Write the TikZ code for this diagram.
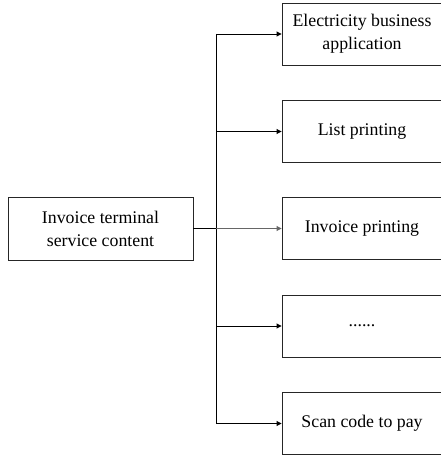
\documentclass[tikz,border=0pt]{standalone}
\usepackage{fontspec}
\setmainfont{Liberation Serif}
\usetikzlibrary{arrows.meta}
\begin{document}
\begin{tikzpicture}[x=1pt,y=-1pt,
  box/.style={draw=black!85,line width=0.9pt,minimum width=160pt,minimum height=62pt,
    inner sep=0pt,align=center,font=\fontsize{17.8}{23}\selectfont},
  src/.style={draw=black!85,line width=0.9pt,minimum width=185pt,minimum height=63pt,
    inner sep=0pt,align=center,font=\fontsize{17.8}{23}\selectfont},
  link/.style={line width=0.9pt,-{Triangle[length=5pt,width=5pt]}}]
\useasboundingbox (0,0) rectangle (440,457);
\fill[white] (0,0) rectangle (440,457);
% source box
\node[src] (s) at (100.5,228.5) {Invoice terminal\\service content};
% target boxes
\node[box] (a) at (362,34) {Electricity business\\application};
\node[box] (b) at (362,131.5) {List printing};
\node[box] (c) at (362,228.5) {Invoice printing};
\node[box] (d) at (362,326) {......};
\node[box] (e) at (362,423.5) {Scan code to pay};
% trunk and branches
\coordinate (j) at (216,228.5);
\coordinate (jt) at (216,34);
\coordinate (jb) at (216,423.5);
\draw[line width=1.8pt] (s.east) -- (j);
\draw[line width=0.9pt] (jt) -- (jb);
\draw[link] (jt) -- (a.west);
\draw[link] (216,131.5) -- (b.west);
\draw[link,draw=black!60] (j) -- (c.west);
\draw[link] (216,326) -- (d.west);
\draw[link] (jb) -- (e.west);
\end{tikzpicture}
\end{document}
